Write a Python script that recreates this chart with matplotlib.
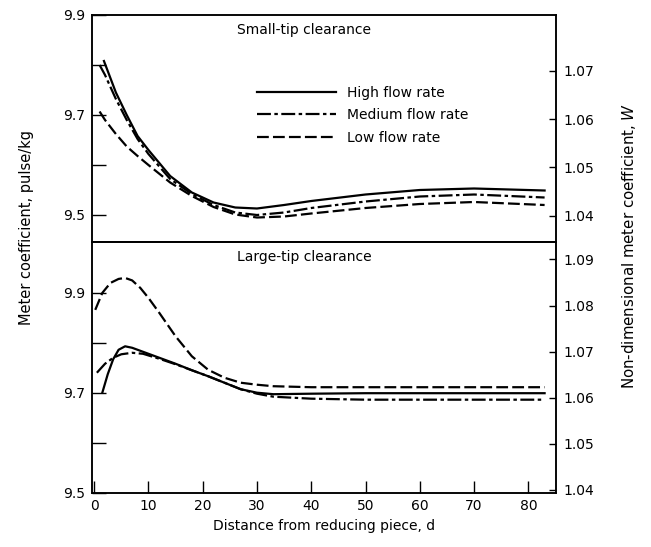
import matplotlib
matplotlib.use("Agg")
import matplotlib.pyplot as plt

plt.rcParams['font.family'] = ['DejaVu Sans']
plt.rcParams['lines.scale_dashes'] = False

# --- data ---
# Small-tip clearance (top panel)
top_high_x = [1.8, 4, 6, 8, 10, 14, 18, 22, 26, 30, 35, 40, 50, 60, 70, 83]
top_high_k = [9.808, 9.745, 9.70, 9.658, 9.63, 9.578, 9.545, 9.525, 9.515, 9.513,
              9.52, 9.528, 9.541, 9.55, 9.553, 9.549]
top_med_x = [1.0, 2, 4, 6, 8, 10, 14, 18, 22, 26, 30, 35, 40, 50, 60, 70, 83]
top_med_k = [9.80, 9.78, 9.732, 9.69, 9.652, 9.622, 9.572, 9.542, 9.52, 9.505, 9.50,
             9.505, 9.514, 9.527, 9.537, 9.541, 9.535]
top_low_x = [1.0, 2, 4, 6, 8, 10, 14, 18, 22, 26, 30, 35, 40, 50, 60, 70, 83]
top_low_k = [9.707, 9.69, 9.662, 9.637, 9.618, 9.60, 9.565, 9.538, 9.516, 9.501, 9.495,
             9.497, 9.503, 9.514, 9.522, 9.526, 9.52]

# Large-tip clearance (bottom panel)
bot_high_x = [1.5, 2.5, 3.5, 4.5, 5.7, 7, 9, 12, 15, 18, 21, 24, 27, 30, 33, 40, 50, 60, 70, 83]
bot_high_k = [9.70, 9.737, 9.767, 9.786, 9.793, 9.79, 9.782, 9.77, 9.758, 9.745, 9.733,
              9.72, 9.707, 9.70, 9.697, 9.698, 9.699, 9.699, 9.699, 9.699]
bot_med_x = [0.5, 2, 3.5, 5, 7, 9, 12, 15, 18, 21, 24, 27, 30, 33, 40, 50, 60, 70, 83]
bot_med_k = [9.74, 9.758, 9.77, 9.777, 9.78, 9.778, 9.768, 9.757, 9.745, 9.733, 9.72,
             9.707, 9.698, 9.692, 9.688, 9.686, 9.686, 9.686, 9.686]
bot_low_x = [0.2, 1.5, 3, 4.5, 5.7, 7, 8.5, 10, 12, 15, 18, 21, 24, 27, 30, 33, 40, 50, 60, 70, 83]
bot_low_k = [9.866, 9.90, 9.92, 9.928, 9.93, 9.925, 9.91, 9.89, 9.86, 9.813, 9.773, 9.746,
             9.73, 9.72, 9.716, 9.713, 9.711, 9.711, 9.711, 9.711, 9.711]

series_labels = ['High flow rate', 'Medium flow rate', 'Low flow rate']
x_ticks = [0, 10, 20, 30, 40, 50, 60, 70, 80]
top_w_ticks = [1.04, 1.05, 1.06, 1.07]
bot_w_ticks = [1.04, 1.05, 1.06, 1.07, 1.08, 1.09]

styles = [dict(color='black', lw=1.6, linestyle='-'),
          dict(color='black', lw=1.6, dashes=(10, 2.5, 2.5, 2.5)),
          dict(color='black', lw=1.6, dashes=(8.5, 3))]

W, H = 651, 547
fig = plt.figure(figsize=(W / 100, H / 100), dpi=100)

left, right = 92 / W, 556 / W
y_top, y_mid, y_bot = 15, 242, 492.5
ax_top = fig.add_axes([left, 1 - y_mid / H, right - left, (y_mid - y_top) / H])
ax_bot = fig.add_axes([left, 1 - y_bot / H, right - left, (y_bot - y_mid) / H])

# --- curves ---
for x, k, st, lab in zip([top_high_x, top_med_x, top_low_x],
                         [top_high_k, top_med_k, top_low_k], styles, series_labels):
    ax_top.plot(x, k, label=lab, **st)
for x, k, st in zip([bot_high_x, bot_med_x, bot_low_x],
                    [bot_high_k, bot_med_k, bot_low_k], styles):
    ax_bot.plot(x, k, **st)

for ax in (ax_top, ax_bot):
    ax.set_xlim(-0.4, 85.1)
    for s in ax.spines.values():
        s.set_linewidth(1.1)

ax_top.set_ylim(9.446, 9.9)
ax_bot.set_ylim(9.5, 10.002)

# --- left scale (pulse/kg) ---
for ax in (ax_top, ax_bot):
    ax.set_yticks([9.5, 9.7, 9.9])
    ax.set_yticks([9.6, 9.8], minor=True)
    ax.set_yticklabels(['9.5', '9.7', '9.9'])
    ax.tick_params(axis='y', which='both', direction='in', length=10, width=1.0,
                   labelsize=10, pad=5)

ax_top.set_xticks([])
ax_bot.set_xticks(x_ticks)
ax_bot.tick_params(axis='x', direction='in', length=8.5, width=1.0, labelsize=10,
                   pad=5, top=False)
ax_bot.set_xlabel('Distance from reducing piece, d', fontsize=10, labelpad=4)

# --- right-hand W scales ---
rt = ax_top.twinx()
rt.set_ylim(1.0346, 1.0815)
rt.set_yticks(top_w_ticks)
rt.set_yticklabels([f'{v:.2f}' for v in top_w_ticks])
rb = ax_bot.twinx()
rb.set_ylim(1.0394, 1.0938)
rb.set_yticks(bot_w_ticks)
rb.set_yticklabels([f'{v:.2f}' for v in bot_w_ticks])
for ax in (rt, rb):
    ax.tick_params(axis='y', direction='in', length=5, width=1.0, labelsize=10, pad=5)
    for s in ax.spines.values():
        s.set_linewidth(1.1)

ax_top.text(0.313, 0.935, 'Small-tip clearance', transform=ax_top.transAxes,
            fontsize=10, ha='left', va='center')
ax_bot.text(0.313, 0.94, 'Large-tip clearance', transform=ax_bot.transAxes,
            fontsize=10, ha='left', va='center')

ax_top.legend(loc='upper left', bbox_to_anchor=(257 / W, 1 - 86 / H),
              bbox_transform=fig.transFigure, frameon=False, fontsize=10,
              handlelength=5.7, handletextpad=0.8, labelspacing=0.6,
              borderpad=0, borderaxespad=0)

fig.text(27 / W, 1 - 130 / H, 'Meter coefficient, pulse/kg', rotation=90,
         fontsize=10.5, ha='center', va='top')
fig.text(629 / W, 1 - 103 / H, 'Non-dimensional meter coefficient, $W$', rotation=90,
         fontsize=10.8, ha='center', va='top')

fig.savefig('out.png', dpi=100)
